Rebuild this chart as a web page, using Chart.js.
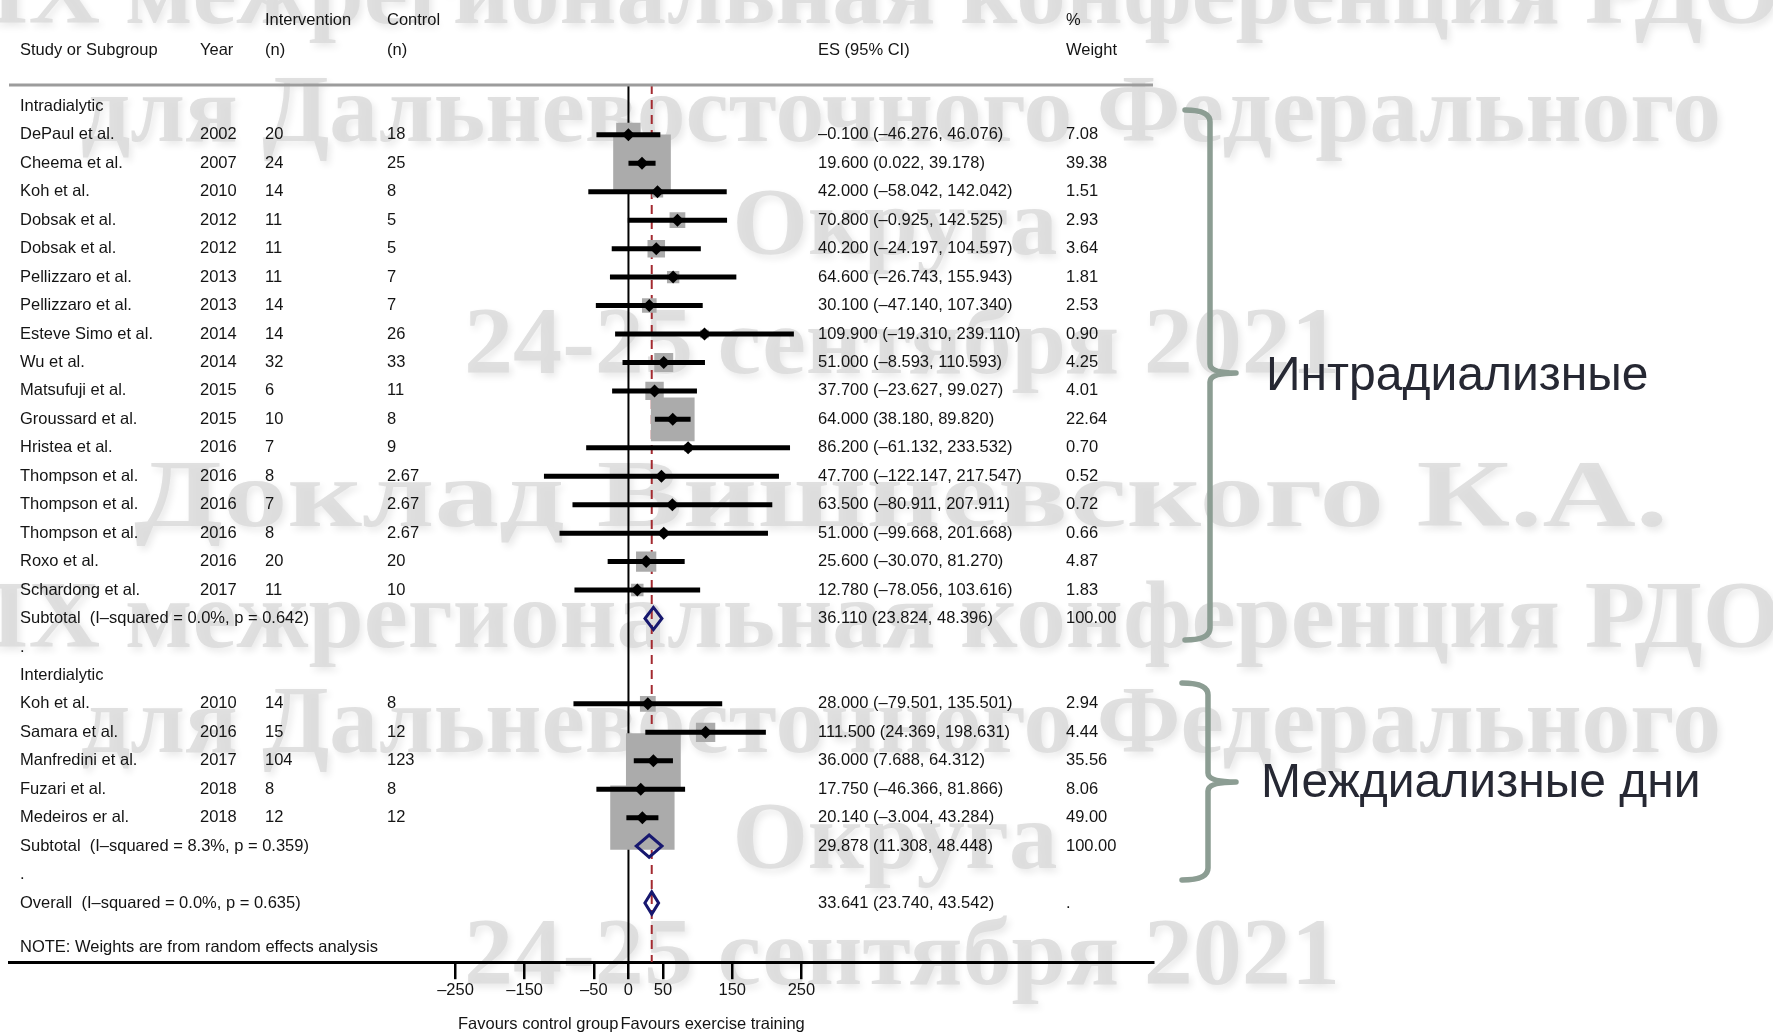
<!DOCTYPE html>
<html>
<head>
<meta charset="utf-8">
<title>Forest plot</title>
<script src="https://cdn.jsdelivr.net/npm/chart.js@4.4.1/dist/chart.umd.min.js"></script>
<style>
  html, body { margin: 0; padding: 0; background: #fff; }
  canvas { display: block; }
</style>
</head>
<body>
<canvas id="forest" width="1773" height="1032"></canvas>
<script>
// study rows
var studyNames = ['DePaul et al.', 'Cheema et al.', 'Koh et al.', 'Dobsak et al.', 'Dobsak et al.',
  'Pellizzaro et al.', 'Pellizzaro et al.', 'Esteve Simo et al.', 'Wu et al.', 'Matsufuji et al.',
  'Groussard et al.', 'Hristea et al.', 'Thompson et al.', 'Thompson et al.', 'Thompson et al.',
  'Roxo et al.', 'Schardong et al.',
  'Koh et al.', 'Samara et al.', 'Manfredini et al.', 'Fuzari et al.', 'Medeiros er al.'];
var studyYears = [2002, 2007, 2010, 2012, 2012, 2013, 2013, 2014, 2014, 2015, 2015, 2016, 2016, 2016, 2016, 2016, 2017,
  2010, 2016, 2017, 2018, 2018];
var studyGroup = [0, 0, 0, 0, 0, 0, 0, 0, 0, 0, 0, 0, 0, 0, 0, 0, 0, 1, 1, 1, 1, 1];
var nIntervention = [20, 24, 14, 11, 11, 11, 14, 14, 32, 6, 10, 7, 8, 7, 8, 20, 11, 14, 15, 104, 8, 12];
var nControl = [18, 25, 8, 5, 5, 7, 7, 26, 33, 11, 8, 9, 2.67, 2.67, 2.67, 20, 10, 8, 12, 123, 8, 12];
var effect = [-0.100, 19.600, 42.000, 70.800, 40.200, 64.600, 30.100, 109.900, 51.000, 37.700, 64.000, 86.200,
  47.700, 63.500, 51.000, 25.600, 12.780, 28.000, 111.500, 36.000, 17.750, 20.140];
var ciLow = [-46.276, 0.022, -58.042, -0.925, -24.197, -26.743, -47.140, -19.310, -8.593, -23.627, 38.180, -61.132,
  -122.147, -80.911, -99.668, -30.070, -78.056, -79.501, 24.369, 7.688, -46.366, -3.004];
var ciHigh = [46.076, 39.178, 142.042, 142.525, 104.597, 155.943, 107.340, 239.110, 110.593, 99.027, 89.820, 233.532,
  217.547, 207.911, 201.668, 81.270, 103.616, 135.501, 198.631, 64.312, 81.866, 43.284];
var weight = [7.08, 39.38, 1.51, 2.93, 3.64, 1.81, 2.53, 0.90, 4.25, 4.01, 22.64, 0.70, 0.52, 0.72, 0.66, 4.87, 1.83,
  2.94, 4.44, 35.56, 8.06, 49.00];

// pooled estimates
var groupNames = ['Intradialytic', 'Interdialytic'];
var subEffect = [36.110, 29.878];
var subLow = [23.824, 11.308];
var subHigh = [48.396, 48.448];
var subI2 = [0.0, 8.3];
var subP = [0.642, 0.359];
var overallEffect = 33.641;
var overallLow = 23.740;
var overallHigh = 43.542;
var overallI2 = 0.0;
var overallP = 0.635;

var tickValues = [-250, -150, -50, 0, 50, 150, 250];
var groupCaptions = ['Интрадиализные', 'Междиализные дни'];
var watermarkText = ['IX межрегиональная конференция РДО', 'для Дальневосточного Федерального', 'Округа',
  '24-25 сентября 2021', 'Доклад Вишневского К.А.'];

// layout
var X_MIN = -895.4, X_MAX = 758.2;
var Y_MIN = -3.74, Y_MAX = 30.08;
var TOP_RULE = -0.753;
var BOX_SIDE = 9.19;          // px of box side per sqrt(% weight)
var DIAMOND_H = 0.39;         // half height of pooled diamonds, in rows
var COL = { study: 20, year: 200, nInt: 265, nCtl: 387, es: 818, weight: 1066 };
var TEXT_FONT = "16.5px 'Liberation Sans', Arial, sans-serif";
var TEXT_COLOR = '#141414';
var WATERMARK = [
  { t: 0, cx: 885, base: 23, w: 1790 }, { t: 1, cx: 901, base: 141, w: 1640 },
  { t: 2, cx: 895, base: 254, w: 325 }, { t: 3, cx: 902, base: 373, w: 876 },
  { t: 4, cx: 901, base: 526, w: 1534 }, { t: 0, cx: 885, base: 647, w: 1790 },
  { t: 1, cx: 901, base: 752, w: 1640 }, { t: 2, cx: 895, base: 868, w: 325 },
  { t: 3, cx: 902, base: 984, w: 876 }
];
var BRACES = [
  { x: 1185, vx: 1210, tip: 1236, top: 110, mid: 373, bottom: 640 },
  { x: 1182, vx: 1208, tip: 1236, top: 683, mid: 782, bottom: 880 }
];
var CAPTIONS = [{ x: 1266, y: 377 }, { x: 1261, y: 784 }];

function fmt(v) {
  return (v < 0 ? '\u2013' : '') + Math.abs(v).toFixed(3);
}
function esText(es, lo, hi) {
  return fmt(es) + ' (' + fmt(lo) + ', ' + fmt(hi) + ')';
}

// work out which row each line of the table sits on
var studyRow = [];
var subRow = [];
var labelRows = [];
var r = 0;
groupNames.forEach(function (g, gi) {
  labelRows.push({ row: r, text: g });
  r++;
  studyNames.forEach(function (n, i) {
    if (studyGroup[i] === gi) { studyRow[i] = r; r++; }
  });
  subRow[gi] = r;
  labelRows.push({ row: r, text: 'Subtotal  (I\u2013squared = ' + subI2[gi].toFixed(1) + '%, p = ' + subP[gi].toFixed(3) + ')' });
  labelRows.push({ row: r, text: esText(subEffect[gi], subLow[gi], subHigh[gi]), x: 'es' });
  labelRows.push({ row: r, text: '100.00', x: 'weight' });
  r++;
  labelRows.push({ row: r, text: '.' });
  r++;
});
var overallRow = r;
labelRows.push({ row: overallRow, text: 'Overall  (I\u2013squared = ' + overallI2.toFixed(1) + '%, p = ' + overallP.toFixed(3) + ')' });
labelRows.push({ row: overallRow, text: esText(overallEffect, overallLow, overallHigh), x: 'es' });
labelRows.push({ row: overallRow, text: '.', x: 'weight' });
labelRows.push({ row: overallRow + 1.56, text: 'NOTE: Weights are from random effects analysis' });

// header
labelRows.push({ row: -3.016, text: 'Intervention', x: 'nInt' });
labelRows.push({ row: -3.016, text: 'Control', x: 'nCtl' });
labelRows.push({ row: -3.016, text: '%', x: 'weight' });
labelRows.push({ row: -1.984, text: 'Study or Subgroup' });
labelRows.push({ row: -1.984, text: 'Year', x: 'year' });
labelRows.push({ row: -1.984, text: '(n)', x: 'nInt' });
labelRows.push({ row: -1.984, text: '(n)', x: 'nCtl' });
labelRows.push({ row: -1.984, text: 'ES (95% CI)', x: 'es' });
labelRows.push({ row: -1.984, text: 'Weight', x: 'weight' });

studyNames.forEach(function (n, i) {
  labelRows.push({ row: studyRow[i], text: n });
  labelRows.push({ row: studyRow[i], text: String(studyYears[i]), x: 'year' });
  labelRows.push({ row: studyRow[i], text: String(nIntervention[i]), x: 'nInt' });
  labelRows.push({ row: studyRow[i], text: String(nControl[i]), x: 'nCtl' });
  labelRows.push({ row: studyRow[i], text: esText(effect[i], ciLow[i], ciHigh[i]), x: 'es' });
  labelRows.push({ row: studyRow[i], text: weight[i].toFixed(2), x: 'weight' });
});

// datasets
var datasets = [];

datasets.push({
  data: [{ x: 0, y: TOP_RULE }, { x: 0, y: Y_MAX }],
  showLine: true, borderColor: '#000', borderWidth: 2, pointRadius: 0, order: 7
});
datasets.push({
  data: [{ x: overallEffect, y: TOP_RULE }, { x: overallEffect, y: Y_MAX }],
  showLine: true, borderColor: '#a32a30', borderWidth: 2, borderDash: [9, 6], pointRadius: 0, order: 6
});
datasets.push({
  data: [{ x: X_MIN, y: TOP_RULE }, { x: X_MAX, y: TOP_RULE }],
  showLine: true, borderColor: '#9c9c9c', borderWidth: 3, pointRadius: 0, order: 5
});

// weight boxes
datasets.push({
  data: effect.map(function (v, i) { return { x: v, y: studyRow[i] }; }),
  pointStyle: 'rect',
  pointRadius: weight.map(function (w) { return BOX_SIDE * Math.sqrt(w) / Math.SQRT2; }),
  backgroundColor: '#ababab', borderWidth: 0, order: 4
});

// confidence intervals
effect.forEach(function (v, i) {
  datasets.push({
    data: [{ x: ciLow[i], y: studyRow[i] }, { x: ciHigh[i], y: studyRow[i] }],
    showLine: true, borderColor: '#000', borderWidth: 5, borderCapStyle: 'butt', pointRadius: 0, order: 3
  });
});

// point estimates
datasets.push({
  data: effect.map(function (v, i) { return { x: v, y: studyRow[i] }; }),
  pointStyle: 'rectRot', pointRadius: 6.5, backgroundColor: '#000', borderWidth: 0, order: 2
});

// pooled diamonds
function diamond(es, lo, hi, row) {
  return {
    data: [{ x: lo, y: row }, { x: es, y: row - DIAMOND_H }, { x: hi, y: row }, { x: es, y: row + DIAMOND_H },
      { x: lo, y: row }, { x: es, y: row - DIAMOND_H }],
    showLine: true, borderColor: '#17186f', borderWidth: 3, borderJoinStyle: 'miter', pointRadius: 0, fill: false, order: 1
  };
}
subEffect.forEach(function (v, gi) {
  datasets.push(diamond(v, subLow[gi], subHigh[gi], subRow[gi]));
});
datasets.push(diamond(overallEffect, overallLow, overallHigh, overallRow));

var watermarkPlugin = {
  id: 'watermark',
  beforeDraw: function (chart) {
    var ctx = chart.ctx;
    ctx.save();
    ctx.font = "bold 96px 'Liberation Serif', 'Times New Roman', serif";
    ctx.textAlign = 'center';
    ctx.textBaseline = 'alphabetic';
    ctx.fillStyle = 'rgba(218,218,218,0.85)';
    ctx.shadowColor = 'rgba(0,0,0,0.10)';
    ctx.shadowBlur = 7;
    ctx.shadowOffsetX = 3;
    ctx.shadowOffsetY = 4;
    WATERMARK.forEach(function (m) {
      var txt = watermarkText[m.t];
      var sx = m.w / ctx.measureText(txt).width;
      ctx.save();
      ctx.translate(m.cx, m.base);
      ctx.scale(sx, 1);
      ctx.fillText(txt, 0, 0);
      ctx.restore();
    });
    ctx.restore();
  }
};

var tablePlugin = {
  id: 'table',
  afterDraw: function (chart) {
    var ctx = chart.ctx;
    var xs = chart.scales.x;
    var ys = chart.scales.y;
    ctx.save();
    ctx.font = TEXT_FONT;
    ctx.fillStyle = TEXT_COLOR;
    ctx.textBaseline = 'middle';
    ctx.textAlign = 'left';
    labelRows.forEach(function (l) {
      ctx.fillText(l.text, COL[l.x || 'study'], ys.getPixelForValue(l.row));
    });

    var zero = xs.getPixelForValue(0);
    ctx.textAlign = 'right';
    ctx.fillText('Favours control group', zero - 10, 1024);
    ctx.textAlign = 'left';
    ctx.fillText('Favours exercise training', zero - 8, 1024);

    // braces and captions on the right
    ctx.strokeStyle = '#8c9d93';
    ctx.lineWidth = 5.5;
    ctx.lineCap = 'round';
    ctx.lineJoin = 'round';
    BRACES.forEach(function (b) {
      ctx.beginPath();
      ctx.moveTo(b.x, b.top);
      ctx.quadraticCurveTo(b.vx, b.top, b.vx, b.top + 12);
      ctx.lineTo(b.vx, b.mid - 9);
      ctx.quadraticCurveTo(b.vx, b.mid, b.tip, b.mid);
      ctx.quadraticCurveTo(b.vx, b.mid, b.vx, b.mid + 9);
      ctx.lineTo(b.vx, b.bottom - 12);
      ctx.quadraticCurveTo(b.vx, b.bottom, b.x, b.bottom);
      ctx.stroke();
    });
    ctx.font = "48px 'Liberation Sans', Arial, sans-serif";
    ctx.fillStyle = '#262833';
    ctx.textAlign = 'left';
    groupCaptions.forEach(function (c, i) {
      ctx.fillText(c, CAPTIONS[i].x, CAPTIONS[i].y);
    });
    ctx.restore();
  }
};

new Chart(document.getElementById('forest'), {
  type: 'scatter',
  data: { datasets: datasets },
  options: {
    responsive: false,
    devicePixelRatio: 1,
    animation: false,
    events: [],
    layout: { autoPadding: false, padding: { left: 9, right: 620, top: 0, bottom: 31 } },
    plugins: { legend: { display: false }, tooltip: { enabled: false } },
    scales: {
      x: {
        type: 'linear',
        position: 'bottom',
        min: X_MIN,
        max: X_MAX,
        bounds: 'data',
        afterBuildTicks: function (scale) {
          scale.ticks = tickValues.map(function (v) { return { value: v }; });
        },
        ticks: {
          autoSkip: false,
          maxRotation: 0,
          padding: 1,
          color: TEXT_COLOR,
          font: { family: "'Liberation Sans', Arial, sans-serif", size: 16.5 },
          callback: function (v) { return (v < 0 ? '\u2013' : '') + Math.abs(v); }
        },
        grid: { drawOnChartArea: false, drawTicks: true, tickLength: 17, color: '#000', lineWidth: 2.5 },
        border: { display: true, color: '#000', width: 3 }
      },
      y: {
        type: 'linear',
        min: Y_MIN,
        max: Y_MAX,
        reverse: true,
        display: false
      }
    }
  },
  plugins: [watermarkPlugin, tablePlugin]
});
</script>
</body>
</html>
